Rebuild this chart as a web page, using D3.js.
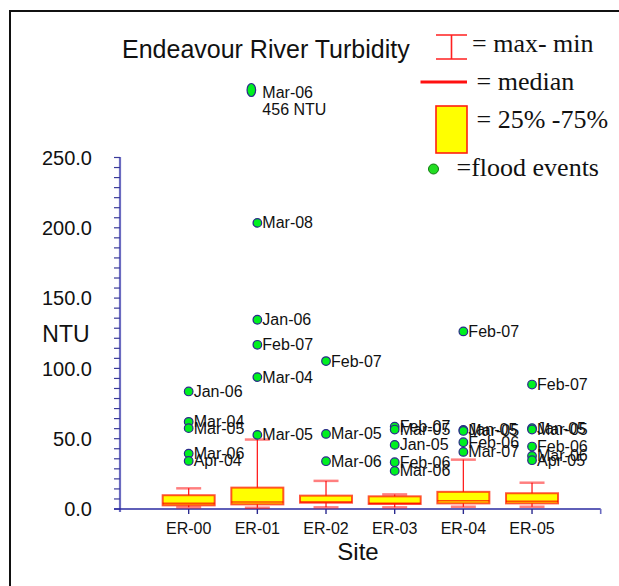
<!DOCTYPE html>
<html>
<head>
<meta charset="utf-8">
<script src="https://cdn.jsdelivr.net/npm/d3@7"></script>
<style>
  html, body { margin: 0; padding: 0; background: #fff; }
  svg { display: block; }
</style>
</head>
<body>
<svg id="chart" width="619" height="586"></svg>
<script>
// Sampling sites along the Endeavour River
const sites = ["ER-00", "ER-01", "ER-02", "ER-03", "ER-04", "ER-05"];

// Box summary per site (NTU)
const boxMin    = [1.2, 0.9, 1.2, 1.2, 1.6, 1.6];
const boxQ1     = [2.6, 3.3, 4.5, 3.6, 4.0, 4.0];
const boxMedian = [4.0, 5.0, 5.0, 4.0, 5.9, 5.5];
const boxQ3     = [9.8, 15.2, 9.5, 9.0, 12.2, 11.2];
const boxMax    = [14.7, 49.4, 20.0, 10.4, 35.1, 18.7];

// Flood event samples
const floodSite = [
  "ER-00", "ER-00", "ER-00", "ER-00", "ER-00",
  "ER-01", "ER-01", "ER-01", "ER-01", "ER-01", "ER-01",
  "ER-02", "ER-02", "ER-02",
  "ER-03", "ER-03", "ER-03", "ER-03", "ER-03",
  "ER-04", "ER-04", "ER-04", "ER-04", "ER-04",
  "ER-05", "ER-05", "ER-05", "ER-05", "ER-05", "ER-05"
];
const floodDate = [
  "Jan-06", "Mar-04", "Mar-05", "Mar-06", "Apr-04",
  "Mar-06", "Mar-08", "Jan-06", "Feb-07", "Mar-04", "Mar-05",
  "Feb-07", "Mar-05", "Mar-06",
  "Feb-07", "Mar-05", "Jan-05", "Feb-06", "Mar-06",
  "Feb-07", "Jan-05", "Mar-05", "Feb-06", "Mar-07",
  "Feb-07", "Jan-05", "Mar-05", "Feb-06", "Mar-06", "Apr-05"
];
const floodNTU = [
  83.6, 62.0, 57.5, 39.4, 34.2,
  456, 203.5, 134.6, 116.8, 93.8, 52.7,
  105.2, 53.4, 34.0,
  58.6, 56.5, 45.6, 33.3, 27.1,
  126.3, 56.3, 55.5, 47.5, 40.6,
  88.5, 57.5, 56.5, 44.4, 37.7, 34.7
];

// Axis ticks
const yTickValues = [0, 50, 100, 150, 200, 250];
const axisTop = 250;

const svg = d3.select("#chart");

// Frame
svg.append("path")
  .attr("d", "M10,600 L10,11 L630,11")
  .attr("fill", "none")
  .attr("stroke", "#111")
  .attr("stroke-width", 2);

// Scales: sites sit at integer positions 1..6 on a 0..7 axis.
const x = d3.scaleLinear().domain([0, sites.length + 1]).range([120, 600.7]);
const xSite = s => x(sites.indexOf(s) + 1);

// Linear to the top of the axis; values beyond it are compressed into the space above.
const y = d3.scaleLinear().domain([0, axisTop, 456]).range([509, 157.5, 90]);

// Y axis with minor ticks
const minorStep = 50 / 7;
const minorTicks = d3.range(0, axisTop + 0.01, minorStep);
const yAxis = svg.append("g").attr("class", "y-axis");
yAxis.append("line")
  .attr("x1", 120).attr("x2", 120)
  .attr("y1", y(axisTop) - 0.5).attr("y2", y(0) + 3)
  .attr("stroke", "#6a6ac0").attr("stroke-width", 2.2);
yAxis.selectAll("line.minor").data(minorTicks).join("line")
  .attr("class", "minor")
  .attr("x1", 114).attr("x2", 120)
  .attr("y1", d => y(d)).attr("y2", d => y(d))
  .attr("stroke", "#3a3a9a").attr("stroke-width", 1.2);
yAxis.selectAll("text").data(yTickValues).join("text")
  .attr("x", 92).attr("y", d => y(d))
  .attr("dy", "0.36em")
  .attr("text-anchor", "end")
  .attr("font-family", "Liberation Sans, Arial, sans-serif")
  .attr("font-size", 20)
  .attr("fill", "#111")
  .text(d => d.toFixed(1));

svg.append("text")
  .attr("x", 66).attr("y", 334)
  .attr("dy", "0.36em")
  .attr("text-anchor", "middle")
  .attr("font-family", "Liberation Sans, Arial, sans-serif")
  .attr("font-size", 23)
  .attr("fill", "#111")
  .text("NTU");

// X axis
const xAxis = svg.append("g").attr("class", "x-axis");
xAxis.append("line")
  .attr("x1", 114).attr("x2", x(sites.length + 1))
  .attr("y1", y(0)).attr("y2", y(0))
  .attr("stroke", "#2a2aa0").attr("stroke-width", 1.6);
xAxis.selectAll("line.tick").data(sites).join("line")
  .attr("class", "tick")
  .attr("x1", d => xSite(d)).attr("x2", d => xSite(d))
  .attr("y1", y(0)).attr("y2", y(0) + 5)
  .attr("stroke", "#2a2a90").attr("stroke-width", 1.4);
xAxis.append("line")
  .attr("x1", x(sites.length + 1)).attr("x2", x(sites.length + 1))
  .attr("y1", y(0)).attr("y2", y(0) + 5)
  .attr("stroke", "#6a6ac0").attr("stroke-width", 1.6);
xAxis.selectAll("text").data(sites).join("text")
  .attr("x", d => xSite(d)).attr("y", 534)
  .attr("text-anchor", "middle")
  .attr("font-family", "Liberation Sans, Arial, sans-serif")
  .attr("font-size", 16)
  .attr("fill", "#111")
  .text(d => d);

svg.append("text")
  .attr("x", 358).attr("y", 560)
  .attr("text-anchor", "middle")
  .attr("font-family", "Liberation Sans, Arial, sans-serif")
  .attr("font-size", 24)
  .attr("fill", "#111")
  .text("Site");

// Box plots
const boxHalf = 26, capHalf = 12.5;
const boxes = svg.append("g").selectAll("g").data(sites).join("g");
boxes.append("line")
  .attr("x1", d => xSite(d)).attr("x2", d => xSite(d))
  .attr("y1", (d, i) => y(boxMin[i])).attr("y2", (d, i) => y(boxMax[i]))
  .attr("stroke", "#ff2020").attr("stroke-width", 1.3);
boxes.append("line")
  .attr("x1", d => xSite(d) - capHalf).attr("x2", d => xSite(d) + capHalf)
  .attr("y1", (d, i) => y(boxMax[i])).attr("y2", (d, i) => y(boxMax[i]))
  .attr("stroke", "rgba(255,0,0,0.5)").attr("stroke-width", 2.5);
boxes.append("line")
  .attr("x1", d => xSite(d) - capHalf).attr("x2", d => xSite(d) + capHalf)
  .attr("y1", (d, i) => y(boxMin[i])).attr("y2", (d, i) => y(boxMin[i]))
  .attr("stroke", "rgba(255,0,0,0.5)").attr("stroke-width", 2.5);
boxes.append("rect")
  .attr("x", d => xSite(d) - boxHalf)
  .attr("width", boxHalf * 2)
  .attr("y", (d, i) => y(boxQ3[i]))
  .attr("height", (d, i) => y(boxQ1[i]) - y(boxQ3[i]))
  .attr("fill", "#ffff00")
  .attr("stroke", "rgba(255,30,0,0.75)").attr("stroke-width", 2);
boxes.append("line")
  .attr("x1", d => xSite(d) - boxHalf).attr("x2", d => xSite(d) + boxHalf)
  .attr("y1", (d, i) => y(boxMedian[i])).attr("y2", (d, i) => y(boxMedian[i]))
  .attr("stroke", "rgba(255,0,0,0.7)").attr("stroke-width", 1.6);

// Flood event points and labels
const floods = floodNTU.map((v, i) => ({ site: floodSite[i], date: floodDate[i], ntu: v }));
const pts = svg.append("g").selectAll("g").data(floods).join("g")
  .attr("transform", d => `translate(${xSite(d.site)},${y(d.ntu)})`);
pts.append("ellipse")
  .attr("cx", d => d.ntu > axisTop ? -6 : 0)
  .attr("rx", 4.3)
  .attr("ry", d => d.ntu > axisTop ? 6.5 : 4.3)
  .attr("fill", "#00f020")
  .attr("stroke", "#2a2a8a").attr("stroke-width", 1.2);
pts.append("text")
  .attr("x", 5).attr("y", d => d.ntu > axisTop ? 8 : 5.5)
  .attr("font-family", "Liberation Sans, Arial, sans-serif")
  .attr("font-size", 16)
  .attr("fill", "#111")
  .text(d => d.date);
pts.filter(d => d.ntu > axisTop).append("text")
  .attr("x", 5).attr("y", 25)
  .attr("font-family", "Liberation Sans, Arial, sans-serif")
  .attr("font-size", 16)
  .attr("fill", "#111")
  .text(d => `${d.ntu} NTU`);

// Title
svg.append("text")
  .attr("x", 122).attr("y", 58)
  .attr("font-family", "Liberation Sans, Arial, sans-serif")
  .attr("font-size", 25)
  .attr("fill", "#111")
  .text("Endeavour River Turbidity");

// Legend
const lg = svg.append("g").attr("font-family", "Liberation Serif, Times New Roman, serif")
  .attr("font-size", 26).attr("fill", "#111");
lg.append("path")
  .attr("d", "M436,35 H467 M451.5,35 V59 M436,59 H467")
  .attr("fill", "none").attr("stroke", "#ff2020").attr("stroke-width", 1.6);
lg.append("text").attr("x", 472).attr("y", 52).text("= max- min");
lg.append("line")
  .attr("x1", 420.5).attr("x2", 467).attr("y1", 82).attr("y2", 82)
  .attr("stroke", "#ff1010").attr("stroke-width", 3);
lg.append("text").attr("x", 476.5).attr("y", 90).text("= median");
lg.append("rect")
  .attr("x", 436).attr("y", 106).attr("width", 31).attr("height", 47)
  .attr("fill", "#ffff00").attr("stroke", "#ff2010").attr("stroke-width", 1.6);
lg.append("text").attr("x", 476.5).attr("y", 128).text("= 25% -75%");
lg.append("circle")
  .attr("cx", 433.5).attr("cy", 169).attr("r", 5)
  .attr("fill", "#22dd22").attr("stroke", "#117711").attr("stroke-width", 1);
lg.append("text").attr("x", 456.5).attr("y", 176).text("=flood events");
</script>
</body>
</html>
